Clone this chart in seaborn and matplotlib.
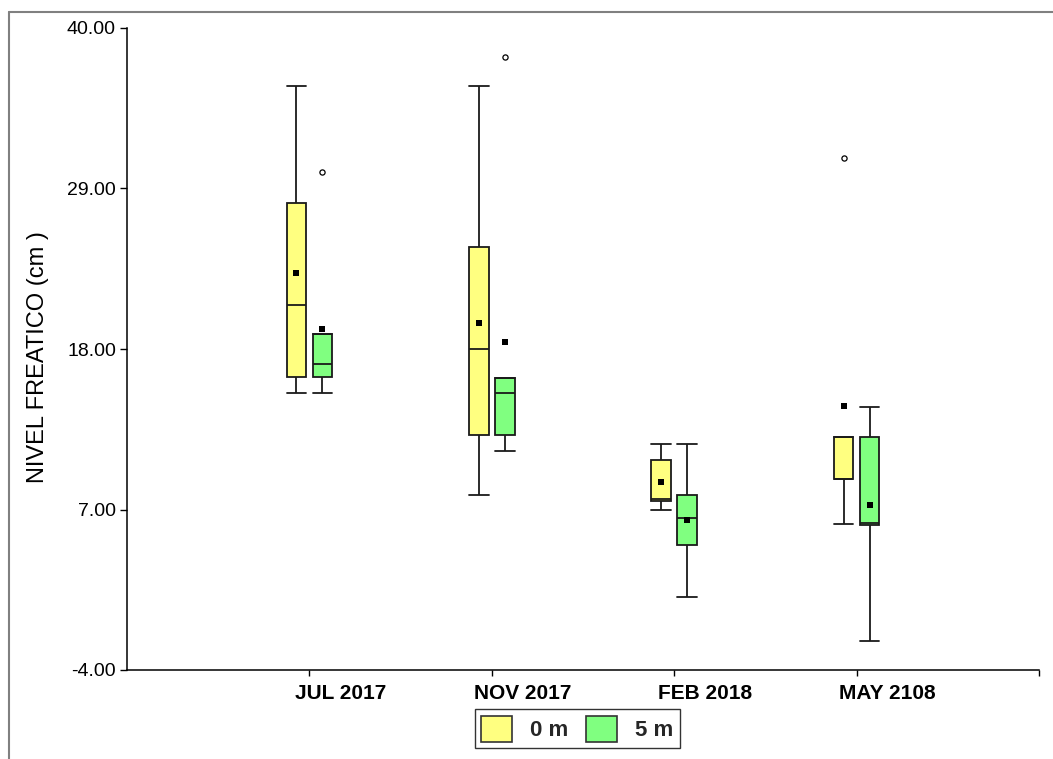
import matplotlib
matplotlib.use("Agg")
import matplotlib.pyplot as plt
from matplotlib.patches import Patch
from matplotlib.lines import Line2D
from matplotlib.ticker import FormatStrFormatter, FixedLocator, FixedFormatter, NullFormatter
import pandas as pd
import seaborn as sns

# Sampling campaigns and well depths
months = ["JUL 2017", "NOV 2017", "FEB 2018", "MAY 2108"]
depths = ["0 m", "5 m"]
colors = ["#FFFF80", "#80FF80"]

# Box summaries (cm) per campaign, depth 0 m
low_0 = [15.0, 8.0, 7.0, 6.0]
q1_0 = [16.1, 12.1, 7.6, 9.1]
med_0 = [21.0, 18.0, 7.7, 9.1]
q3_0 = [28.0, 25.0, 10.4, 12.0]
high_0 = [36.0, 36.0, 11.5, 12.0]
mean_0 = [23.2, 19.8, 8.9, 14.1]

# Box summaries (cm) per campaign, depth 5 m
low_5 = [15.0, 11.0, 1.0, -2.0]
q1_5 = [16.1, 12.1, 4.6, 5.95]
med_5 = [17.0, 15.0, 6.4, 6.05]
q3_5 = [19.0, 16.0, 8.0, 12.0]
high_5 = [19.0, 16.0, 11.5, 14.0]
mean_5 = [19.4, 18.5, 6.3, 7.3]

# Outlying observations
outlier_month = ["MAY 2108", "JUL 2017", "NOV 2017"]
outlier_depth = ["0 m", "5 m", "5 m"]
outlier_value = [31.1, 30.1, 38.0]

yticks = [-4, 7, 18, 29, 40]

sns.set_theme(style="white")
plt.rcParams["font.family"] = ["Liberation Sans", "DejaVu Sans"]

summaries = {
    depths[0]: (low_0, q1_0, med_0, q3_0, high_0),
    depths[1]: (low_5, q1_5, med_5, q3_5, high_5),
}
means = {depths[0]: mean_0, depths[1]: mean_5}

rows = []
for d in depths:
    for i, m in enumerate(months):
        for s in summaries[d]:
            rows.append({"pos": i, "depth": d, "value": s[i]})
box_df = pd.DataFrame(rows)

group_width = 0.285
gap = 0.25
box_w = group_width / 2 * (1 - gap)
offsets = {depths[0]: -group_width / 4, depths[1]: group_width / 4}

mean_df = pd.DataFrame(
    [{"x": i + offsets[d], "value": means[d][i]} for d in depths for i in range(len(months))]
)
out_df = pd.DataFrame(
    {
        "x": [months.index(m) + offsets[d] for m, d in zip(outlier_month, outlier_depth)],
        "value": outlier_value,
    }
)

fig = plt.figure(figsize=(10.53, 7.59), dpi=100)
ax = fig.add_axes([127 / 1053, 89 / 759, 912 / 1053, 642 / 759])

sns.boxplot(
    data=box_df, x="pos", y="value", hue="depth", hue_order=depths,
    palette=colors, native_scale=True, width=group_width, gap=gap,
    whis=(0, 100), showfliers=False, linecolor="#1a1a1a", linewidth=1.3,
    legend=False, ax=ax, capwidths=box_w, saturation=1,
)
sns.scatterplot(data=mean_df, x="x", y="value", marker="s", color="black",
                s=20, linewidth=0, legend=False, ax=ax, zorder=5)
sns.scatterplot(data=out_df, x="x", y="value", marker="o", color="white",
                edgecolor="black", s=14, linewidth=0.9, legend=False, ax=ax, zorder=5)

ax.set_xlim(-1, 4)
ax.set_ylim(-4, 40)
ax.set_yticks(yticks)
ax.yaxis.set_major_formatter(FormatStrFormatter("%.2f"))

# tick marks at each campaign; the names sit a little to the right of them
label_shift = 0.17
ax.xaxis.set_major_locator(FixedLocator(list(range(len(months) + 1))))
ax.xaxis.set_major_formatter(NullFormatter())
ax.xaxis.set_minor_locator(FixedLocator([i + label_shift for i in range(len(months))]))
ax.xaxis.set_minor_formatter(FixedFormatter(months))
for lab in ax.xaxis.get_minorticklabels():
    lab.set_fontweight("bold")

ax.tick_params(axis="x", which="major", bottom=True, direction="out", length=4,
               width=1, colors="black")
ax.tick_params(axis="x", which="minor", bottom=True, length=0, pad=10,
               labelsize=15, labelcolor="black")
ax.tick_params(axis="y", left=True, direction="out", length=5, width=1,
               pad=3, labelsize=14, colors="black")
sns.despine(ax=ax)
for side in ("left", "bottom"):
    ax.spines[side].set_color("black")
    ax.spines[side].set_linewidth(1.1)

ax.set_xlabel("")
ax.set_ylabel("NIVEL FREATICO (cm )", fontsize=17, color="black")
ax.yaxis.set_label_coords(-0.085, 0.487)

handles = [Patch(facecolor=c, edgecolor="#333333", linewidth=1.2, label=d)
           for c, d in zip(colors, depths)]
leg = fig.legend(
    handles=handles, loc="center", bbox_to_anchor=(0.5483, 0.0397), ncol=2,
    frameon=True, fancybox=False, framealpha=1, edgecolor="#333333",
    prop={"weight": "bold", "size": 16}, handlelength=1.4, handleheight=1.4,
    handletextpad=0.8, columnspacing=0.8, borderpad=0.3, borderaxespad=0,
)
leg.get_frame().set_linewidth(1.0)

# window frame on the left and top edges
fx = 8.5 / 1053
fy = 1 - 11.5 / 759
fig.add_artist(Line2D([fx, fx], [0, fy], transform=fig.transFigure,
                      color="#808080", linewidth=1.5))
fig.add_artist(Line2D([fx, 1], [fy, fy], transform=fig.transFigure,
                      color="#808080", linewidth=1.5))

fig.savefig("out.png", dpi=100)
